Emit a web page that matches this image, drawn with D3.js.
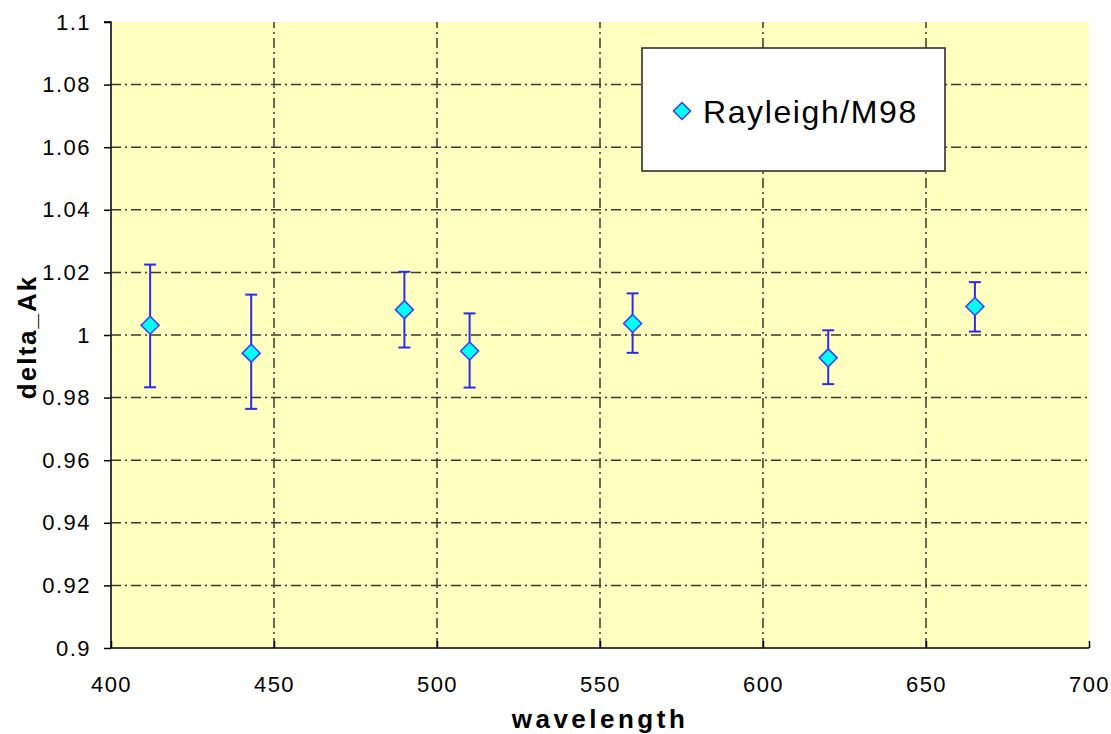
<!DOCTYPE html>
<html>
<head>
<meta charset="utf-8">
<script src="https://cdn.jsdelivr.net/npm/d3@7"></script>
<style>
  body { margin: 0; background: #fff; }
  svg text { font-family: Arial, 'Liberation Sans', sans-serif; fill: #000; }
</style>
</head>
<body>
<div id="chart"></div>
<script>
// wavelengths (nm) and delta_Ak with error-bar ends
const wavelengths = [412, 443, 490, 510, 560, 620, 665];
const deltaAk = [1.0031, 0.9942, 1.0081, 0.9949, 1.0037, 0.9927, 1.0091];
const errHigh = [1.0225, 1.0129, 1.0202, 1.0069, 1.0133, 1.0015, 1.0169];
const errLow = [0.9833, 0.9764, 0.9960, 0.9832, 0.9943, 0.9843, 1.0011];
const xTicks = [400, 450, 500, 550, 600, 650, 700];
const yTicks = [0.9, 0.92, 0.94, 0.96, 0.98, 1, 1.02, 1.04, 1.06, 1.08, 1.1];
const seriesName = 'Rayleigh/M98';

const width = 1111, height = 734;
const plot = { left: 111, top: 22, right: 1089, bottom: 648 };

const svg = d3.select('#chart')
  .append('svg')
    .attr('width', width)
    .attr('height', height);

const x = d3.scaleLinear()
    .domain([400, 700])
    .range([plot.left, plot.right]);

const y = d3.scaleLinear()
    .domain([0.9, 1.1])
    .range([plot.bottom, plot.top]);

const dataset = wavelengths.map((w, i) => ({ w: w, v: deltaAk[i], hi: errHigh[i], lo: errLow[i] }));

// plot background
svg.append('rect')
    .attr('x', plot.left)
    .attr('y', plot.top)
    .attr('width', plot.right - plot.left)
    .attr('height', plot.bottom - plot.top)
    .attr('fill', '#ffffc0');

// grid lines
const grid = svg.append('g').attr('class', 'grid');
const dash = '10,4,2,4';

grid.selectAll('line.gy')
  .data(yTicks.filter((t) => t > 0.901 && t < 1.099))
  .enter().append('line')
    .attr('class', 'gy')
    .attr('x1', plot.left)
    .attr('x2', plot.right)
    .attr('y1', (d) => y(d))
    .attr('y2', (d) => y(d))
    .attr('stroke', '#3a3a30')
    .attr('stroke-width', 1.5)
    .attr('stroke-dasharray', dash);

grid.selectAll('line.gx')
  .data(xTicks.filter((t) => t > 400 && t < 700))
  .enter().append('line')
    .attr('class', 'gx')
    .attr('x1', (d) => x(d))
    .attr('x2', (d) => x(d))
    .attr('y1', plot.bottom)
    .attr('y2', plot.top)
    .attr('stroke', '#3a3a30')
    .attr('stroke-width', 1.5)
    .attr('stroke-dasharray', dash);

// axes
const axisY = svg.append('g')
    .attr('transform', 'translate(' + plot.left + ',0)')
    .call(d3.axisLeft(y)
      .tickValues(yTicks)
      .tickSize(7)
      .tickPadding(13)
      .tickFormat((d) => d3.format('')(+d.toFixed(2))));

const axisX = svg.append('g')
    .attr('transform', 'translate(0,' + plot.bottom + ')')
    .call(d3.axisBottom(x)
      .tickValues(xTicks)
      .tickSize(-7)
      .tickPadding(28)
      .tickFormat(d3.format('d')));

[axisX, axisY].forEach((a) => {
  a.select('.domain').attr('stroke', '#000').attr('stroke-width', 1.5);
  a.selectAll('.tick line').attr('stroke', '#000').attr('stroke-width', 1.5);
  a.selectAll('.tick text')
    .style('font-size', '22px')
    .style('letter-spacing', '1.5px')
    .attr('fill', '#000');
});
axisY.select('.domain').attr('d', 'M0,' + plot.bottom + 'V' + plot.top + 'H-7');
axisX.select('.domain').attr('d', 'M' + plot.left + ',0H' + plot.right);
axisX.selectAll('.tick text').attr('dy', '0.71em');

// axis titles
svg.append('text')
    .attr('x', (plot.left + plot.right) / 2)
    .attr('y', 728)
    .attr('text-anchor', 'middle')
    .style('font-size', '26px')
    .style('font-weight', 'bold')
    .style('letter-spacing', '3.5px')
    .text('wavelength');

svg.append('text')
    .attr('transform', 'translate(36,' + 337 + ') rotate(-90)')
    .attr('text-anchor', 'middle')
    .style('font-size', '26px')
    .style('font-weight', 'bold')
    .style('letter-spacing', '2px')
    .text('delta_Ak');

// error bars
const bars = svg.append('g').attr('class', 'errorbars')
  .selectAll('g')
  .data(dataset)
  .enter().append('g');

const barColor = '#2b2bf0';
bars.append('line')
    .attr('x1', (d) => x(d.w))
    .attr('x2', (d) => x(d.w))
    .attr('y1', (d) => y(d.hi))
    .attr('y2', (d) => y(d.lo))
    .attr('stroke', barColor)
    .attr('stroke-width', 2);
['hi', 'lo'].forEach((k) => {
  bars.append('line')
      .attr('x1', (d) => x(d.w) - 6)
      .attr('x2', (d) => x(d.w) + 6)
      .attr('y1', (d) => y(d[k]))
      .attr('y2', (d) => y(d[k]))
      .attr('stroke', barColor)
      .attr('stroke-width', 2);
});

// markers
function diamond(cx, cy, r) {
  return 'M' + cx + ',' + (cy - r) + 'L' + (cx + r) + ',' + cy + 'L' + cx + ',' + (cy + r) + 'L' + (cx - r) + ',' + cy + 'Z';
}

svg.append('g').attr('class', 'points')
  .selectAll('path')
  .data(dataset)
  .enter().append('path')
    .attr('d', (d) => diamond(x(d.w), y(d.v), 9))
    .attr('fill', '#00ffff')
    .attr('stroke', '#3a3aff')
    .attr('stroke-width', 1.5);

// legend
const legend = svg.append('g').attr('class', 'legend');
legend.append('rect')
    .attr('x', 642)
    .attr('y', 48)
    .attr('width', 303)
    .attr('height', 123)
    .attr('fill', '#fff')
    .attr('stroke', '#222')
    .attr('stroke-width', 1.5);
legend.append('path')
    .attr('d', diamond(682, 111, 8.5))
    .attr('fill', '#00ffff')
    .attr('stroke', '#3a3aff')
    .attr('stroke-width', 1.5);
legend.append('text')
    .attr('x', 703)
    .attr('y', 123)
    .style('font-size', '32px')
    .style('letter-spacing', '1.6px')
    .text(seriesName);
</script>
</body>
</html>
